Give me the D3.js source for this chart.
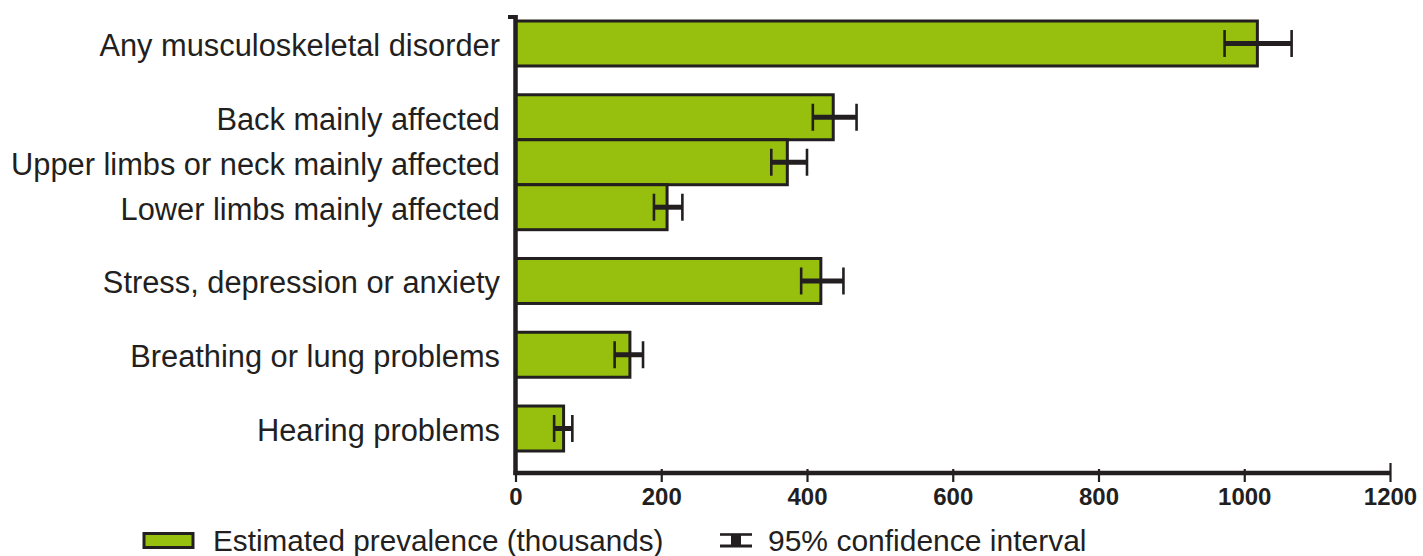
<!DOCTYPE html>
<html>
<head>
<meta charset="utf-8">
<script src="https://cdn.jsdelivr.net/npm/d3@7/dist/d3.min.js"></script>
<style>
  html, body { margin: 0; padding: 0; background: #fff; }
  svg { display: block; }
  text { font-family: "Liberation Sans", Arial, Helvetica, sans-serif; fill: #231f20; }
</style>
</head>
<body>
<svg id="chart" width="1423" height="556"></svg>
<script>
// Work-related ill health: estimated prevalence (thousands) with 95% CIs
const categories = [
  "Any musculoskeletal disorder",
  "Back mainly affected",
  "Upper limbs or neck mainly affected",
  "Lower limbs mainly affected",
  "Stress, depression or anxiety",
  "Breathing or lung problems",
  "Hearing problems"
];
// bars that share a group are drawn touching each other
const groups = [0, 1, 1, 1, 2, 3, 4];
const prevalence = [1018, 436, 373, 208, 419, 157, 66];
const ciLow = [973, 408, 351, 190, 392, 136, 53];
const ciHigh = [1065, 468, 400, 229, 450, 175, 78];
const xTicks = [0, 200, 400, 600, 800, 1000, 1200];
const legendLabels = ["Estimated prevalence (thousands)", "95% confidence interval"];

const INK = "#231f20";
const GREEN = "#97bf0d";

const svg = d3.select("#chart");

const x = d3.scaleLinear().domain([0, 1200]).range([515.5, 1390]);

// vertical slots: one unit per bar, a fractional gap between groups
const gapUnits = 0.64;
const slotStart = [];
let pos = 0;
categories.forEach((c, i) => {
  if (i > 0 && groups[i] !== groups[i - 1]) pos += gapUnits;
  slotStart.push(pos);
  pos += 1;
});
const y = d3.scaleLinear().domain([0, pos]).range([21, 451]);
const barH = y(1) - y(0);

const rows = categories.map((c, i) => ({
  label: c, value: prevalence[i], lo: ciLow[i], hi: ciHigh[i],
  top: y(slotStart[i])
}));

// bars
svg.append("g").selectAll("rect").data(rows).join("rect")
  .attr("x", x(0))
  .attr("y", d => d.top)
  .attr("width", d => x(d.value) - x(0))
  .attr("height", barH)
  .attr("fill", GREEN)
  .attr("stroke", INK)
  .attr("stroke-width", 3);

// error bars
const eb = svg.append("g").selectAll("g").data(rows).join("g");
eb.append("line")
  .attr("x1", d => x(d.lo)).attr("x2", d => x(d.hi))
  .attr("y1", d => d.top + barH / 2).attr("y2", d => d.top + barH / 2)
  .attr("stroke", INK).attr("stroke-width", 5);
eb.selectAll("line.cap").data(d => [d.lo, d.hi].map(v => ({ v, cy: d.top + barH / 2 })))
  .join("line").attr("class", "cap")
  .attr("x1", d => x(d.v)).attr("x2", d => x(d.v))
  .attr("y1", d => d.cy - 13.5).attr("y2", d => d.cy + 13.5)
  .attr("stroke", INK).attr("stroke-width", 2.6);

// category labels
svg.append("g").selectAll("text").data(rows).join("text")
  .attr("x", 500)
  .attr("y", d => d.top + barH / 2)
  .attr("dy", "0.4em")
  .attr("text-anchor", "end")
  .style("font-size", "30.8px")
  .text(d => d.label);

// x axis
const axisY = 473;
const xAxis = d3.axisBottom(x).tickValues(xTicks).tickFormat(d3.format("d"))
  .tickSize(13).tickSizeOuter(0).tickPadding(10);
const gx = svg.append("g").attr("transform", `translate(0,${axisY - 4})`).call(xAxis);
gx.select(".domain").remove();
gx.selectAll(".tick line").attr("stroke", INK).attr("stroke-width", 2.2);
gx.selectAll(".tick text")
  .style("font-size", "24px").style("font-weight", "bold")
  .attr("fill", INK).attr("y", 19).attr("dy", "0.71em");
// end cap at the top of the scale is taller
gx.selectAll(".tick").filter(d => d === 1200).select("line").attr("y1", -6);

svg.append("line")
  .attr("x1", x(0) - 2).attr("x2", x(1200))
  .attr("y1", axisY).attr("y2", axisY)
  .attr("stroke", INK).attr("stroke-width", 4.5);

// y axis line with a small cap at the top
svg.append("line")
  .attr("x1", x(0)).attr("x2", x(0))
  .attr("y1", 15).attr("y2", axisY + 2)
  .attr("stroke", INK).attr("stroke-width", 4.5);
svg.append("line")
  .attr("x1", x(0) - 7.5).attr("x2", x(0) + 2)
  .attr("y1", 17).attr("y2", 17)
  .attr("stroke", INK).attr("stroke-width", 4);

// legend
const lg = svg.append("g");
lg.append("rect")
  .attr("x", 144).attr("y", 533.5).attr("width", 49).attr("height", 14)
  .attr("fill", GREEN).attr("stroke", INK).attr("stroke-width", 3);
lg.append("text").attr("x", 213).attr("y", 551).style("font-size", "29.7px").text(legendLabels[0]);

const ix = 720, iw = 32;
lg.append("line").attr("x1", ix).attr("x2", ix + iw).attr("y1", 534.5).attr("y2", 534.5)
  .attr("stroke", INK).attr("stroke-width", 2.6);
lg.append("line").attr("x1", ix).attr("x2", ix + iw).attr("y1", 546).attr("y2", 546)
  .attr("stroke", INK).attr("stroke-width", 3);
lg.append("rect").attr("x", ix + 11).attr("y", 534.5).attr("width", 10).attr("height", 11.5)
  .attr("fill", INK);
lg.append("text").attr("x", 768).attr("y", 551).style("font-size", "30px").text(legendLabels[1]);
</script>
</body>
</html>
